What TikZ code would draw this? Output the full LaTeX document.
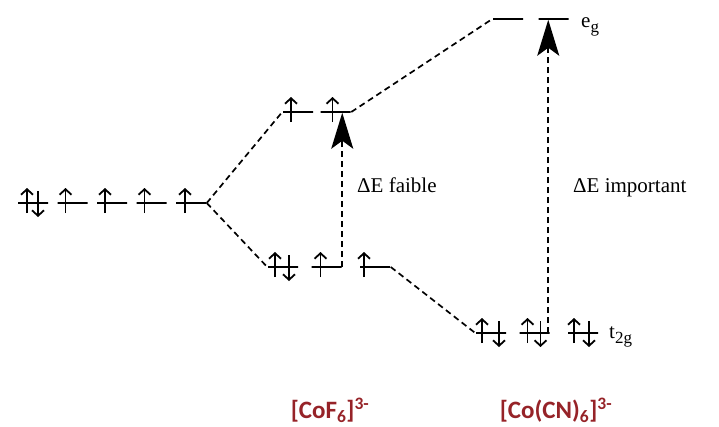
\documentclass[tikz,border=0pt]{standalone}
\usepackage{fontspec}
\setmainfont{Liberation Serif}
\newfontfamily\cplxfont{Carlito}
\usetikzlibrary{arrows.meta,positioning}
\definecolor{cplxred}{RGB}{150,35,40}
\tikzset{
  orb/.style  ={draw, minimum width=30pt, minimum height=0pt, inner sep=0pt,
                line width=1.5pt},
  spin/.style ={-{Straight Barb[length=5.5pt,width=12pt]}, line width=1.8pt},
  corr/.style ={dash pattern=on 6pt off 4pt, line width=1.7pt},
  gap/.style  ={-{Stealth[length=36pt,width=22pt,inset=8pt]},
                dash pattern=on 6pt off 4pt, line width=1.6pt},
  dlbl/.style ={font=\fontsize{21}{24}\selectfont, anchor=west, inner sep=0pt},
  cplx/.style ={font=\cplxfont\bfseries\fontsize{25}{28}\selectfont,
                text=cplxred},
}
% one electron up / down, #2 = x offset from the level centre
\newcommand\eup[2]{\draw[spin] ([xshift=#2pt,yshift=-10pt]#1.center)
  -- ([xshift=#2pt,yshift=15pt]#1.center);}
\newcommand\edn[2]{\draw[spin] ([xshift=#2pt,yshift=12pt]#1.center)
  -- ([xshift=#2pt,yshift=-14pt]#1.center);}
\newcommand\sub[1]{\raisebox{-5pt}{\fontsize{17}{17}\selectfont #1}}
\begin{document}
\begin{tikzpicture}[x=1pt, y=-1pt]
\useasboundingbox (0,0) rectangle (719,426);
% free ion
\node[orb] (f1) at (33,203) {};
\node[orb, right=8pt of f1] (f2) {};
\node[orb, right=8pt of f2] (f3) {};
\node[orb, right=8pt of f3] (f4) {};
\node[orb, right=8pt of f4] (f5) {};
\eup{f1}{-6} \edn{f1}{5}
\eup{f2}{-7} \eup{f3}{-7} \eup{f4}{-7} \eup{f5}{-6}
% [CoF6]3-
\node[orb] (b1) at (298,112) {};
\node[orb, right=6pt of b1] (b2) {};
\node[orb] (c1) at (283,267) {};
\node[orb, right=12pt of c1] (c2) {};
\node[orb, right=17pt of c2] (c3) {};
\eup{b1}{-7} \eup{b2}{-3}
\eup{c1}{-8} \edn{c1}{6}
\eup{c2}{-6} \eup{c3}{-11}
% [Co(CN)6]3-
\node[orb] (m1) at (508,19) {};
\node[orb, right=14pt of m1] (m2) {};
\node[orb] (n1) at (491,333) {};
\node[orb, right=12pt of n1] (n2) {};
\node[orb, right=17pt of n2] (n3) {};
\eup{n1}{-9} \edn{n1}{8}
\eup{n2}{-7} \edn{n2}{6}
\eup{n3}{-9} \edn{n3}{6}
% correlation lines
\draw[corr] (f5.east) -- (b1.west);
\draw[corr] (f5.east) -- (c1.west);
\draw[corr] (b2.east) -- (m1.west);
\draw[corr] (c3.east) -- (n1.west);
% splitting
\draw[gap] (c2.east) -- (c2.east |- b2.south);
\draw[gap] ([xshift=-2pt]n2.east) -- ([xshift=-2pt]n2.east |- m2.south);
\node[dlbl] (df) at (357,185) {ΔE faible};
\node[dlbl] (di) at (573,188) {ΔE important};
\node[dlbl, anchor=base west] (eg) at (581,27) {e\sub{g}};
\node[dlbl, anchor=base west] (t2g) at (609,338) {t\sub{2g}};
\node[cplx] (k1) at (330,410) {[CoF\textsubscript{6}]\textsuperscript{3-}};
\node[cplx] (k2) at (556,410) {[Co(CN)\textsubscript{6}]\textsuperscript{3-}};
\end{tikzpicture}
\end{document}
